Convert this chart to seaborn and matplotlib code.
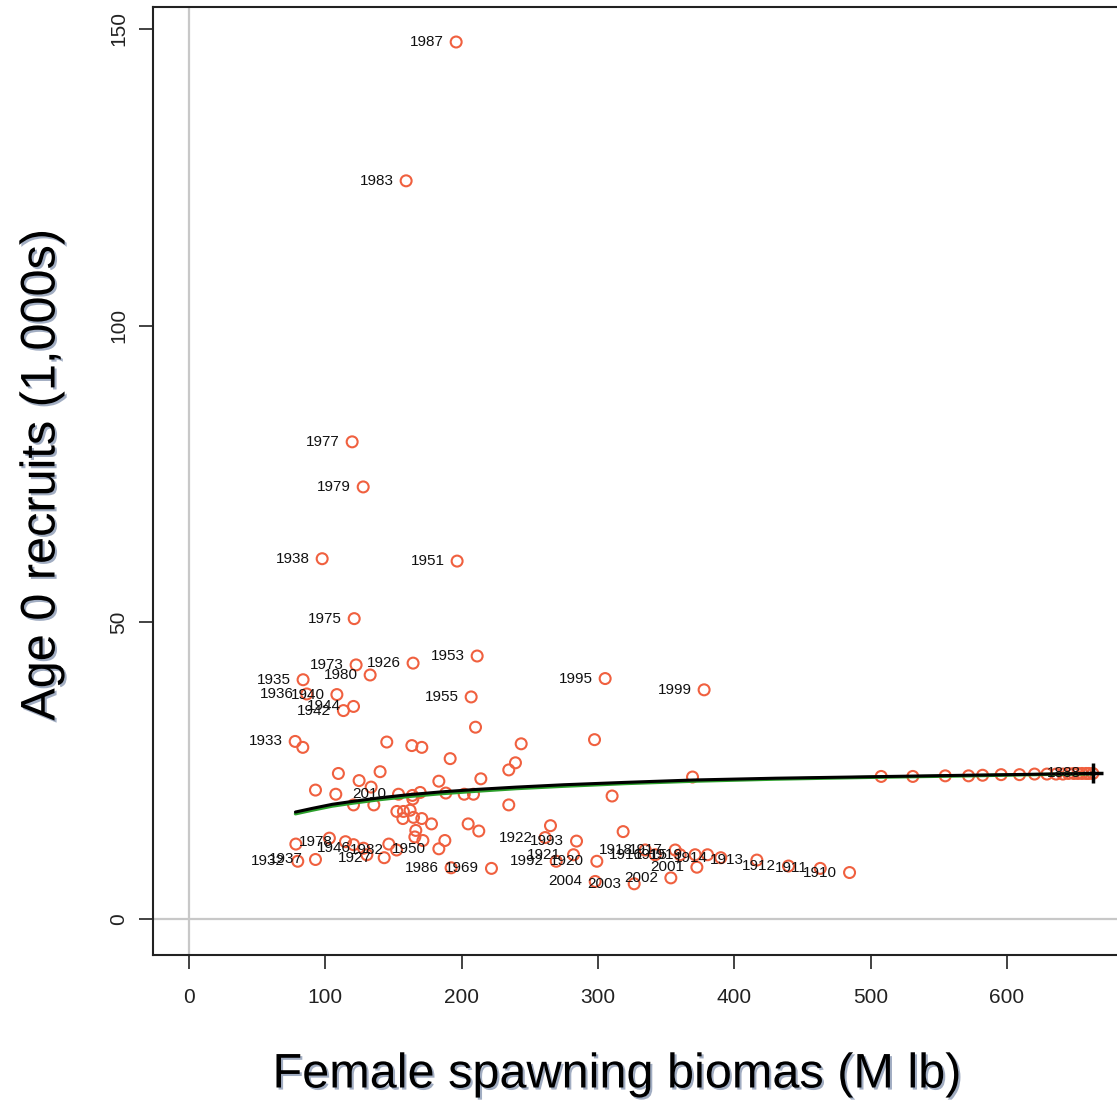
import matplotlib
matplotlib.use("Agg")
import matplotlib.pyplot as plt
import matplotlib.patheffects as pe
import pandas as pd
import seaborn as sns

# ===== Данные: биомасса самок (M lb) и пополнение (1000s) =====
biomass = [
    195.9, 159.2, 119.6, 127.7, 97.6, 196.6, 121.1, 211.3, 164.3, 122.5,
    132.8, 83.6, 305.2, 377.8, 206.9, 86.3, 108.4, 113.2, 120.6, 77.8,
    83.4, 145.0, 163.4, 170.7, 210.1, 191.5, 243.6, 239.4, 234.5, 214.0,
    183.2, 140.1, 109.5, 124.7, 92.7, 107.6, 133.5, 120.6, 135.5, 153.6,
    163.8, 169.5, 188.3, 201.8, 208.6, 234.5, 152.4, 157.2, 162.1, 164.1,
    156.8, 164.6, 170.7, 177.8, 166.3, 204.7, 212.5, 165.6, 171.5, 187.6,
    183.2, 146.5, 78.3, 79.7, 92.7, 102.9, 114.7, 127.9, 152.2, 143.1,
    120.6, 130.4, 192.2, 221.8, 297.4, 369.3, 310.3, 265.1, 318.4, 284.2,
    261.2, 282.0, 269.3, 299.1, 297.9, 326.5, 353.4, 372.5, 334.6, 356.6,
    341.9, 360.2, 371.2, 380.3, 390.0, 416.5, 439.7, 463.0, 484.5,
    507.7, 530.9, 554.7, 571.8, 582.1, 595.7, 609.2, 620.2, 629.3, 636.0,
    641.0, 645.0, 649.0, 652.0, 655.0, 658.0, 660.0, 663.0,
]
recruits = [
    147.8, 124.4, 80.4, 72.8, 60.7, 60.3, 50.6, 44.3, 43.1, 42.8,
    41.1, 40.3, 40.5, 38.6, 37.4, 37.9, 37.8, 35.1, 35.8, 29.9,
    28.9, 29.8, 29.2, 28.9, 32.3, 27.0, 29.5, 26.3, 25.1, 23.6,
    23.2, 24.8, 24.5, 23.3, 21.7, 21.0, 22.2, 19.2, 19.2, 21.0,
    20.8, 21.3, 21.2, 21.0, 21.0, 19.2, 18.1, 18.1, 18.3, 20.2,
    16.9, 17.1, 16.9, 16.0, 14.9, 16.0, 14.8, 13.8, 13.2, 13.2,
    11.8, 12.6, 12.6, 9.7, 10.0, 13.6, 13.0, 11.9, 11.6, 10.3,
    12.5, 10.8, 8.6, 8.5, 30.2, 23.9, 20.7, 15.7, 14.7, 13.1,
    13.7, 10.8, 9.7, 9.7, 6.3, 5.9, 6.9, 8.7, 11.6, 11.6,
    10.8, 10.8, 10.8, 10.8, 10.3, 9.9, 8.9, 8.5, 7.8,
    24.0, 24.0, 24.1, 24.1, 24.2, 24.3, 24.3, 24.4, 24.4, 24.4,
    24.4, 24.5, 24.5, 24.5, 24.5, 24.5, 24.5, 24.5,
]
years = [
    "1987", "1983", "1977", "1979", "1938", "1951", "1975", "1953", "1926", "1973",
    "1980", "1935", "1995", "1999", "1955", "1936", "1940", "1942", "1944", "1933",
    "", "", "", "", "", "", "", "", "", "",
    "", "", "", "", "", "", "", "", "", "2010",
    "", "", "", "", "", "", "", "", "", "",
    "", "", "", "", "", "", "", "", "", "",
    "1950", "", "", "1932", "1937", "", "1978", "1946", "1982", "1927",
    "", "", "1986", "1969", "", "", "", "", "", "1993",
    "1922", "1921", "1992", "1920", "2004", "2003", "2002", "2001", "1918", "1917",
    "1916", "1915", "1919", "", "1914", "1913", "1912", "1911", "1910",
    "", "", "", "", "", "", "", "", "", "",
    "", "", "", "", "", "", "", "1888",
]

# Кривые запас-пополнение
curve_x = [78, 90, 105, 120, 140, 160, 185, 210, 240, 275, 320, 370, 430, 500, 570, 630, 663]
curve_black = [18.0, 18.6, 19.3, 19.8, 20.4, 20.9, 21.4, 21.8, 22.2, 22.6, 23.0, 23.4,
               23.7, 23.95, 24.2, 24.4, 24.5]
curve_green = [17.7, 18.3, 19.0, 19.5, 20.1, 20.6, 21.1, 21.5, 21.95, 22.35, 22.8, 23.2,
               23.55, 23.85, 24.1, 24.35, 24.45]

# Точка B0 / R0
b0_x = [663]
r0_y = [24.5]

df = pd.DataFrame({"biomass": biomass, "recruits": recruits, "year": years})
curves = pd.DataFrame({"x": curve_x, "black": curve_black, "green": curve_green})

sns.set_style("white")
plt.rcParams["font.family"] = ["Liberation Sans", "DejaVu Sans"]

fig = plt.figure(figsize=(11.17, 11.01), dpi=100)
# правый край осей выходит за рисунок, как в оригинале
ax = fig.add_axes([153 / 1117, (1101 - 955) / 1101, (1129 - 153) / 1117, (955 - 7) / 1101])

ax.axvline(0, color="#c8c8c8", lw=1.6, zorder=0)
ax.axhline(0, color="#c8c8c8", lw=1.6, zorder=0)

sns.scatterplot(data=df, x="biomass", y="recruits", ax=ax, marker="o", s=62,
                facecolor="none", edgecolor="#f0603f", linewidth=1.5, zorder=3)

sns.lineplot(data=curves, x="x", y="green", ax=ax, color="#2ca02c", lw=2.4,
             sort=False, zorder=4)
sns.lineplot(data=curves, x="x", y="black", ax=ax, color="black", lw=2.2,
             sort=False, zorder=4)

ax.scatter(b0_x, r0_y, marker="+", s=220, color="black", linewidths=2.5, zorder=6)

for _, row in df[df["year"] != ""].iterrows():
    ax.annotate(row["year"], (row["biomass"], row["recruits"]), xytext=(-9, 0),
                textcoords="offset points", ha="right", va="center",
                fontsize=11, color="#111111", zorder=5)

ax.set_xlim(-26.5, 689.5)
ax.set_ylim(-6.1, 153.7)
ax.set_xticks([0, 100, 200, 300, 400, 500, 600])
ax.set_yticks([0, 50, 100, 150])
ax.tick_params(axis="both", direction="out", length=10, width=1.2, color="#222222",
               labelsize=15, labelcolor="#222222", left=True, bottom=True)
ax.tick_params(axis="x", pad=14)
ax.tick_params(axis="y", pad=8)
for lab in ax.get_yticklabels():
    lab.set_rotation(90)
    lab.set_va("center")

for sp in ax.spines.values():
    sp.set_visible(True)
    sp.set_color("#222222")
    sp.set_linewidth(1.5)

shadow = [pe.withSimplePatchShadow(offset=(1.5, -1.5), shadow_rgbFace="#7a8aa8", alpha=0.7)]
ax.set_xlabel("")
ax.set_ylabel("")
fig.text(617 / 1117, 1 - 1075 / 1101, "Female spawning biomas (M lb)", fontsize=35,
         ha="center", va="center", color="black", path_effects=shadow)
fig.text(42 / 1117, 1 - 475 / 1101, "Age 0 recruits (1,000s)", fontsize=35,
         rotation=90, ha="center", va="center", color="black", path_effects=shadow)

plt.savefig("out.png", dpi=100)
plt.close()
